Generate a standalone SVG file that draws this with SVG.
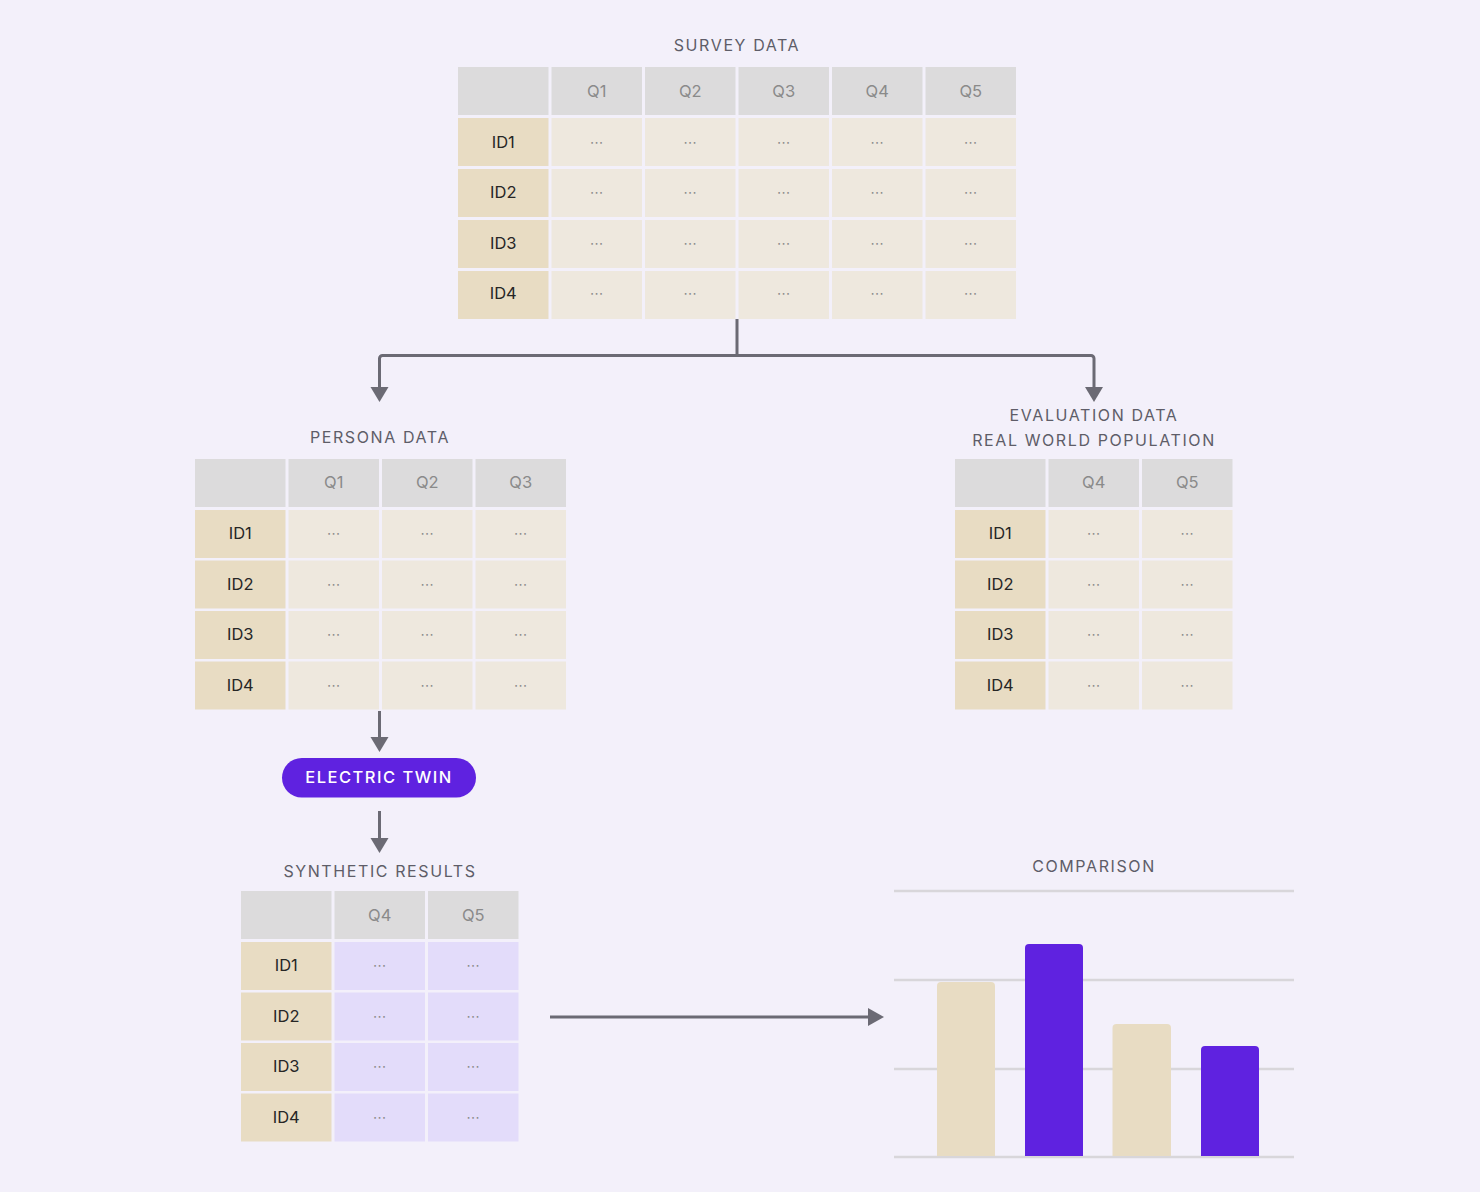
<svg xmlns="http://www.w3.org/2000/svg" width="1480" height="1192" viewBox="0 0 1480 1192">
<defs>
<style>
.bg{fill:#F3F0FA}
.hd{fill:#DCDBDC}
.id{fill:#E8DCC3}
.dc{fill:#EEE8DE}
.sc{fill:#E3DCFA}
.title{font-family:Inter,"Liberation Sans",sans-serif;font-size:16px;letter-spacing:1.6px;fill:#5E5D68;text-anchor:middle}
.q{font-family:Inter,"Liberation Sans",sans-serif;font-size:16.5px;fill:#8A8A8A;text-anchor:middle}
.idt{font-family:Inter,"Liberation Sans",sans-serif;font-size:16.5px;fill:#262626;text-anchor:middle}
.dot{font-family:"DejaVu Sans",sans-serif;font-size:14px;fill:#8C8C8C;text-anchor:middle}
.ln{fill:none;stroke:#6B6A74;stroke-width:3}
.grid{stroke:#D8D6DA;stroke-width:2.5}
</style>
</defs>
<rect class="bg" x="0" y="0" width="1480" height="1192"/>

<g id="survey-data">
<text class="title" x="737" y="51">SURVEY DATA</text>
<g transform="translate(458,67)">
<rect class="hd" x="0" y="0" width="90.5" height="48"/>
<rect class="hd" x="93.5" y="0" width="90.5" height="48"/>
<rect class="hd" x="187" y="0" width="90.5" height="48"/>
<rect class="hd" x="280.5" y="0" width="90.5" height="48"/>
<rect class="hd" x="374" y="0" width="90.5" height="48"/>
<rect class="hd" x="467.5" y="0" width="90.5" height="48"/>
<text class="q" x="138.75" y="29.5">Q1</text>
<text class="q" x="232.25" y="29.5">Q2</text>
<text class="q" x="325.75" y="29.5">Q3</text>
<text class="q" x="419.25" y="29.5">Q4</text>
<text class="q" x="512.75" y="29.5">Q5</text>
<g>
<rect class="id" x="0" y="51" width="90.5" height="48"/><rect class="dc" x="93.5" y="51" width="90.5" height="48"/><rect class="dc" x="187" y="51" width="90.5" height="48"/><rect class="dc" x="280.5" y="51" width="90.5" height="48"/><rect class="dc" x="374" y="51" width="90.5" height="48"/><rect class="dc" x="467.5" y="51" width="90.5" height="48"/>
<rect class="id" x="0" y="102" width="90.5" height="48"/><rect class="dc" x="93.5" y="102" width="90.5" height="48"/><rect class="dc" x="187" y="102" width="90.5" height="48"/><rect class="dc" x="280.5" y="102" width="90.5" height="48"/><rect class="dc" x="374" y="102" width="90.5" height="48"/><rect class="dc" x="467.5" y="102" width="90.5" height="48"/>
<rect class="id" x="0" y="153" width="90.5" height="48"/><rect class="dc" x="93.5" y="153" width="90.5" height="48"/><rect class="dc" x="187" y="153" width="90.5" height="48"/><rect class="dc" x="280.5" y="153" width="90.5" height="48"/><rect class="dc" x="374" y="153" width="90.5" height="48"/><rect class="dc" x="467.5" y="153" width="90.5" height="48"/>
<rect class="id" x="0" y="204" width="90.5" height="48"/><rect class="dc" x="93.5" y="204" width="90.5" height="48"/><rect class="dc" x="187" y="204" width="90.5" height="48"/><rect class="dc" x="280.5" y="204" width="90.5" height="48"/><rect class="dc" x="374" y="204" width="90.5" height="48"/><rect class="dc" x="467.5" y="204" width="90.5" height="48"/>
</g>
<text class="idt" x="45.25" y="80.5">ID1</text>
<text class="idt" x="45.25" y="131">ID2</text>
<text class="idt" x="45.25" y="181.5">ID3</text>
<text class="idt" x="45.25" y="232">ID4</text>
<g>
<text class="dot" x="138.75" y="79.5">⋯</text><text class="dot" x="232.25" y="79.5">⋯</text><text class="dot" x="325.75" y="79.5">⋯</text><text class="dot" x="419.25" y="79.5">⋯</text><text class="dot" x="512.75" y="79.5">⋯</text>
<text class="dot" x="138.75" y="130">⋯</text><text class="dot" x="232.25" y="130">⋯</text><text class="dot" x="325.75" y="130">⋯</text><text class="dot" x="419.25" y="130">⋯</text><text class="dot" x="512.75" y="130">⋯</text>
<text class="dot" x="138.75" y="180.5">⋯</text><text class="dot" x="232.25" y="180.5">⋯</text><text class="dot" x="325.75" y="180.5">⋯</text><text class="dot" x="419.25" y="180.5">⋯</text><text class="dot" x="512.75" y="180.5">⋯</text>
<text class="dot" x="138.75" y="231">⋯</text><text class="dot" x="232.25" y="231">⋯</text><text class="dot" x="325.75" y="231">⋯</text><text class="dot" x="419.25" y="231">⋯</text><text class="dot" x="512.75" y="231">⋯</text>
</g>
</g>
</g>

<g id="persona-data">
<text class="title" x="380" y="443">PERSONA DATA</text>
<g transform="translate(195,459)">
<rect class="hd" x="0" y="0" width="90.5" height="48"/>
<rect class="hd" x="93.5" y="0" width="90.5" height="48"/>
<rect class="hd" x="187" y="0" width="90.5" height="48"/>
<rect class="hd" x="280.5" y="0" width="90.5" height="48"/>
<text class="q" x="138.75" y="29">Q1</text>
<text class="q" x="232.25" y="29">Q2</text>
<text class="q" x="325.75" y="29">Q3</text>
<rect class="id" x="0" y="51" width="90.5" height="48"/><rect class="dc" x="93.5" y="51" width="90.5" height="48"/><rect class="dc" x="187" y="51" width="90.5" height="48"/><rect class="dc" x="280.5" y="51" width="90.5" height="48"/>
<rect class="id" x="0" y="101.5" width="90.5" height="48"/><rect class="dc" x="93.5" y="101.5" width="90.5" height="48"/><rect class="dc" x="187" y="101.5" width="90.5" height="48"/><rect class="dc" x="280.5" y="101.5" width="90.5" height="48"/>
<rect class="id" x="0" y="152" width="90.5" height="48"/><rect class="dc" x="93.5" y="152" width="90.5" height="48"/><rect class="dc" x="187" y="152" width="90.5" height="48"/><rect class="dc" x="280.5" y="152" width="90.5" height="48"/>
<rect class="id" x="0" y="202.5" width="90.5" height="48"/><rect class="dc" x="93.5" y="202.5" width="90.5" height="48"/><rect class="dc" x="187" y="202.5" width="90.5" height="48"/><rect class="dc" x="280.5" y="202.5" width="90.5" height="48"/>
<text class="idt" x="45.25" y="80">ID1</text>
<text class="idt" x="45.25" y="130.5">ID2</text>
<text class="idt" x="45.25" y="181">ID3</text>
<text class="idt" x="45.25" y="231.5">ID4</text>
<text class="dot" x="138.75" y="79">⋯</text><text class="dot" x="232.25" y="79">⋯</text><text class="dot" x="325.75" y="79">⋯</text>
<text class="dot" x="138.75" y="129.5">⋯</text><text class="dot" x="232.25" y="129.5">⋯</text><text class="dot" x="325.75" y="129.5">⋯</text>
<text class="dot" x="138.75" y="180">⋯</text><text class="dot" x="232.25" y="180">⋯</text><text class="dot" x="325.75" y="180">⋯</text>
<text class="dot" x="138.75" y="230.5">⋯</text><text class="dot" x="232.25" y="230.5">⋯</text><text class="dot" x="325.75" y="230.5">⋯</text>
</g>
</g>

<g id="evaluation-data">
<text class="title" x="1094" y="421">EVALUATION DATA</text>
<text class="title" x="1094" y="446">REAL WORLD POPULATION</text>
<g transform="translate(955,459)">
<rect class="hd" x="0" y="0" width="90.5" height="48"/>
<rect class="hd" x="93.5" y="0" width="90.5" height="48"/>
<rect class="hd" x="187" y="0" width="90.5" height="48"/>
<text class="q" x="138.75" y="29">Q4</text>
<text class="q" x="232.25" y="29">Q5</text>
<rect class="id" x="0" y="51" width="90.5" height="48"/><rect class="dc" x="93.5" y="51" width="90.5" height="48"/><rect class="dc" x="187" y="51" width="90.5" height="48"/>
<rect class="id" x="0" y="101.5" width="90.5" height="48"/><rect class="dc" x="93.5" y="101.5" width="90.5" height="48"/><rect class="dc" x="187" y="101.5" width="90.5" height="48"/>
<rect class="id" x="0" y="152" width="90.5" height="48"/><rect class="dc" x="93.5" y="152" width="90.5" height="48"/><rect class="dc" x="187" y="152" width="90.5" height="48"/>
<rect class="id" x="0" y="202.5" width="90.5" height="48"/><rect class="dc" x="93.5" y="202.5" width="90.5" height="48"/><rect class="dc" x="187" y="202.5" width="90.5" height="48"/>
<text class="idt" x="45.25" y="80">ID1</text>
<text class="idt" x="45.25" y="130.5">ID2</text>
<text class="idt" x="45.25" y="181">ID3</text>
<text class="idt" x="45.25" y="231.5">ID4</text>
<text class="dot" x="138.75" y="79">⋯</text><text class="dot" x="232.25" y="79">⋯</text>
<text class="dot" x="138.75" y="129.5">⋯</text><text class="dot" x="232.25" y="129.5">⋯</text>
<text class="dot" x="138.75" y="180">⋯</text><text class="dot" x="232.25" y="180">⋯</text>
<text class="dot" x="138.75" y="230.5">⋯</text><text class="dot" x="232.25" y="230.5">⋯</text>
</g>
</g>

<g id="electric-twin">
<rect x="282" y="758" width="194" height="39.5" rx="19.75" fill="#5F22E0"/>
<text x="379" y="783" font-family="Inter,'Liberation Sans',sans-serif" font-size="16.5" font-weight="500" letter-spacing="1.5" fill="#FFFFFF" text-anchor="middle">ELECTRIC TWIN</text>
</g>

<g id="synthetic-results">
<text class="title" x="380" y="877">SYNTHETIC RESULTS</text>
<g transform="translate(241,891)">
<rect class="hd" x="0" y="0" width="90.5" height="48"/>
<rect class="hd" x="93.5" y="0" width="90.5" height="48"/>
<rect class="hd" x="187" y="0" width="90.5" height="48"/>
<text class="q" x="138.75" y="29.5">Q4</text>
<text class="q" x="232.25" y="29.5">Q5</text>
<rect class="id" x="0" y="51" width="90.5" height="48"/><rect class="sc" x="93.5" y="51" width="90.5" height="48"/><rect class="sc" x="187" y="51" width="90.5" height="48"/>
<rect class="id" x="0" y="101.5" width="90.5" height="48"/><rect class="sc" x="93.5" y="101.5" width="90.5" height="48"/><rect class="sc" x="187" y="101.5" width="90.5" height="48"/>
<rect class="id" x="0" y="152" width="90.5" height="48"/><rect class="sc" x="93.5" y="152" width="90.5" height="48"/><rect class="sc" x="187" y="152" width="90.5" height="48"/>
<rect class="id" x="0" y="202.5" width="90.5" height="48"/><rect class="sc" x="93.5" y="202.5" width="90.5" height="48"/><rect class="sc" x="187" y="202.5" width="90.5" height="48"/>
<text class="idt" x="45.25" y="80">ID1</text>
<text class="idt" x="45.25" y="130.5">ID2</text>
<text class="idt" x="45.25" y="181">ID3</text>
<text class="idt" x="45.25" y="231.5">ID4</text>
<text class="dot" x="138.75" y="79">⋯</text><text class="dot" x="232.25" y="79">⋯</text>
<text class="dot" x="138.75" y="129.5">⋯</text><text class="dot" x="232.25" y="129.5">⋯</text>
<text class="dot" x="138.75" y="180">⋯</text><text class="dot" x="232.25" y="180">⋯</text>
<text class="dot" x="138.75" y="230.5">⋯</text><text class="dot" x="232.25" y="230.5">⋯</text>
</g>
</g>

<g id="comparison">
<text class="title" x="1094" y="872">COMPARISON</text>
<line class="grid" x1="894" y1="891" x2="1294" y2="891"/>
<line class="grid" x1="894" y1="980" x2="1294" y2="980"/>
<line class="grid" x1="894" y1="1069" x2="1294" y2="1069"/>
<line class="grid" x1="894" y1="1157" x2="1294" y2="1157"/>
<path d="M937,1156 V986 a4,4 0 0 1 4,-4 H991 a4,4 0 0 1 4,4 V1156 Z" fill="#E8DCC3"/>
<path d="M1025,1156 V948 a4,4 0 0 1 4,-4 H1079 a4,4 0 0 1 4,4 V1156 Z" fill="#5F22E0"/>
<path d="M1112.5,1156 V1028 a4,4 0 0 1 4,-4 H1167 a4,4 0 0 1 4,4 V1156 Z" fill="#E8DCC3"/>
<path d="M1201,1156 V1050 a4,4 0 0 1 4,-4 H1255 a4,4 0 0 1 4,4 V1156 Z" fill="#5F22E0"/>
</g>

<g id="connectors">
<path class="ln" d="M737,319 V355.5"/>
<path class="ln" d="M379.5,388 V358.5 a3,3 0 0 1 3,-3 H1091 a3,3 0 0 1 3,3 V388"/>
<path d="M370.5,387 H388.5 L379.5,402 Z" fill="#6B6A74"/>
<path d="M1085,387 H1103 L1094,402 Z" fill="#6B6A74"/>
<path class="ln" d="M379.5,711 V738"/>
<path d="M370.5,737 H388.5 L379.5,752 Z" fill="#6B6A74"/>
<path class="ln" d="M379.5,811 V839"/>
<path d="M370.5,838 H388.5 L379.5,853 Z" fill="#6B6A74"/>
<path class="ln" d="M550,1017 H869"/>
<path d="M868,1008 V1026 L884,1017 Z" fill="#6B6A74"/>
</g>
</svg>
